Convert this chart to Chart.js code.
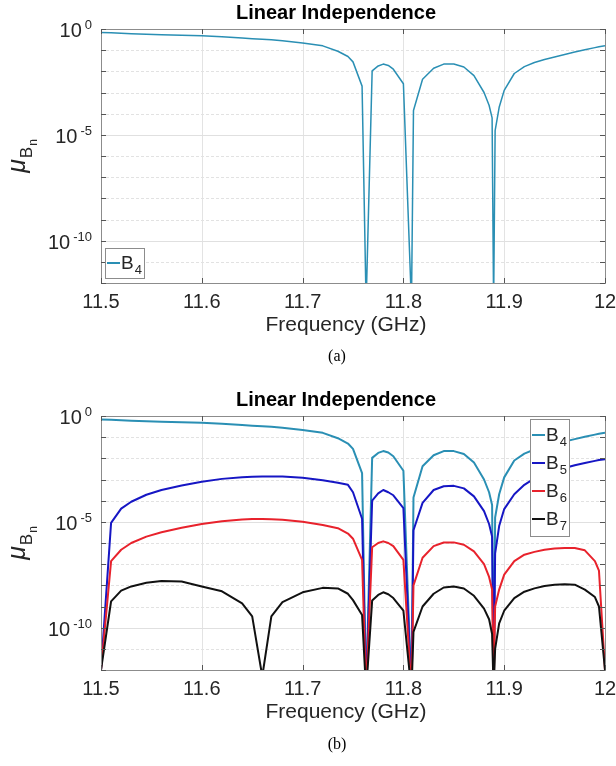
<!DOCTYPE html>
<html>
<head>
<meta charset="utf-8">
<script src="https://cdn.jsdelivr.net/npm/chart.js@4.4.1/dist/chart.umd.min.js"></script>
<style>
  body { margin: 0; background: #fff; }
  canvas { display: block; }
</style>
</head>
<body>
<canvas id="chartA" width="616" height="383"></canvas>
<canvas id="chartB" width="616" height="383"></canvas>
<script>
// frequency samples (GHz), shared by every curve
const freq = [11.50, 11.51, 11.52, 11.53, 11.545, 11.56, 11.58, 11.60, 11.62, 11.64,
  11.65, 11.66, 11.669, 11.68, 11.70, 11.72, 11.735, 11.745, 11.75, 11.759,
  11.763, 11.769, 11.775, 11.78, 11.785, 11.79, 11.80, 11.808, 11.81, 11.819,
  11.83, 11.84, 11.85, 11.86, 11.87, 11.88, 11.885, 11.888, 11.8895, 11.891,
  11.895, 11.90, 11.91, 11.92, 11.93, 11.94, 11.95, 11.96, 11.97, 11.98,
  11.99, 11.994, 12.00];

const muB4 = [6.9e-1, 6.6e-1, 6.3e-1, 6.0e-1, 5.6e-1, 5.4e-1, 5.0e-1, 4.8e-1, 4.3e-1, 3.8e-1,
  3.5e-1, 3.3e-1, 3.1e-1, 2.75e-1, 2.2e-1, 1.6e-1, 8.9e-2, 5.0e-2, 2.8e-2, 2.0e-3,
  1e-13, 1.05e-2, 1.8e-2, 2.2e-2, 1.9e-2, 1.26e-2, 2.6e-3, 1e-13, 1.4e-4, 4.2e-3,
  1.4e-2, 2.2e-2, 2.2e-2, 1.6e-2, 6.3e-3, 1.0e-3, 2.5e-4, 6.3e-5, 1e-13, 1.6e-5,
  2.0e-4, 1.26e-3, 7.9e-3, 1.66e-2, 2.6e-2, 3.6e-2, 4.8e-2, 6.3e-2, 8.1e-2, 1.05e-1,
  1.32e-1, 1.45e-1, 1.62e-1];

const muB5 = [1e-12, 8.9e-6, 4.2e-5, 8.9e-5, 1.9e-4, 3.2e-4, 5.2e-4, 7.9e-4, 1.07e-3, 1.29e-3,
  1.35e-3, 1.38e-3, 1.38e-3, 1.38e-3, 1.2e-3, 9.3e-4, 7.1e-4, 5.6e-4, 2.5e-4, 1.4e-5,
  1e-13, 1.0e-4, 2.2e-4, 3.2e-4, 2.5e-4, 1.8e-4, 4.5e-5, 1e-13, 4.0e-6, 7.9e-5,
  3.2e-4, 4.8e-4, 5.0e-4, 3.8e-4, 1.6e-4, 3.2e-5, 7.9e-6, 2.0e-6, 1e-13, 3.2e-7,
  6.3e-6, 4.0e-5, 2.0e-4, 5.6e-4, 1.12e-3, 1.78e-3, 2.6e-3, 3.5e-3, 4.7e-3, 6.0e-3,
  7.6e-3, 8.3e-3, 9.1e-3];

const muB6 = [1e-12, 1.4e-7, 4.8e-7, 1.0e-6, 2.0e-6, 3.2e-6, 5.2e-6, 7.9e-6, 1.07e-5, 1.29e-5,
  1.35e-5, 1.35e-5, 1.32e-5, 1.26e-5, 1.0e-5, 7.1e-6, 5.0e-6, 2.8e-6, 1.6e-6, 1.6e-7,
  1e-13, 6.3e-7, 1.0e-6, 1.2e-6, 1.0e-6, 7.1e-7, 1.6e-7, 1e-13, 1.0e-8, 2.0e-7,
  7.1e-7, 1.05e-6, 1.07e-6, 8.3e-7, 4.0e-7, 1.0e-7, 2.5e-8, 6.3e-9, 1e-13, 1.0e-9,
  6.3e-9, 3.2e-8, 1.4e-7, 2.8e-7, 3.8e-7, 4.8e-7, 5.5e-7, 5.8e-7, 5.8e-7, 4.5e-7,
  1.4e-7, 5.0e-8, 1e-12];

const muB7 = [1e-12, 1.74e-9, 5.6e-9, 8.9e-9, 1.32e-8, 1.62e-8, 1.51e-8, 8.9e-9, 5.2e-9, 1.4e-9,
  3.4e-10, 5e-13, 3.4e-10, 1.6e-9, 4.7e-9, 7.6e-9, 7.1e-9, 4.0e-9, 2.0e-9, 4.0e-10,
  1e-13, 1.9e-9, 3.5e-9, 4.7e-9, 3.8e-9, 2.5e-9, 6.3e-10, 1e-13, 6.3e-11, 1.0e-9,
  4.0e-9, 7.9e-9, 8.9e-9, 7.1e-9, 3.2e-9, 7.9e-10, 2.5e-10, 5.0e-11, 1e-13, 1.0e-11,
  1.6e-10, 6.3e-10, 2.5e-9, 5.0e-9, 7.2e-9, 9.3e-9, 1.07e-8, 1.12e-8, 1.07e-8, 6.3e-9,
  2.8e-9, 1.0e-9, 1e-12];

const xTicks = [11.5, 11.6, 11.7, 11.8, 11.9, 12];
const yDecades = [1e0, 1e-1, 1e-2, 1e-3, 1e-4, 1e-5, 1e-6, 1e-7, 1e-8, 1e-9, 1e-10, 1e-11, 1e-12];
const yLabelExps = ['0', '-5', '-10'];

const FONT = '"Liberation Sans", Arial, Helvetica, sans-serif';
const SERIF = '"Liberation Serif", "Times New Roman", serif';
const INK = '#262626';

const crisp = v => Math.round(v) + 0.5;

function seg(ctx, x1, y1, x2, y2) {
  ctx.beginPath();
  ctx.moveTo(x1, y1);
  ctx.lineTo(x2, y2);
  ctx.stroke();
}

// draws base text with a lowered (or raised) smaller part, returns end x
function textWithIndex(ctx, x, y, base, idx, size, idxSize, shift) {
  ctx.font = size + 'px ' + FONT;
  ctx.fillText(base, x, y);
  const w = ctx.measureText(base).width;
  ctx.font = idxSize + 'px ' + FONT;
  ctx.fillText(idx, x + w + 1, y + shift);
  return x + w + 1 + ctx.measureText(idx).width;
}

// grid, box, ticks, labels, legend and captions in MATLAB style
const figurePlugin = {
  id: 'figure',
  beforeDatasetsDraw(chart, args, o) {
    const { ctx, chartArea: a, scales: { x, y } } = chart;
    ctx.save();
    ctx.lineWidth = 1;
    ctx.strokeStyle = '#e3e3e3';
    xTicks.slice(1, -1).forEach(v => {
      const px = crisp(x.getPixelForValue(v));
      seg(ctx, px, a.top, px, a.bottom);
    });
    yDecades.forEach((v, i) => {
      const py = crisp(y.getPixelForValue(v));
      if (i % 5 === 0) {
        ctx.setLineDash([]);
        ctx.strokeStyle = '#e0e0e0';
      } else {
        ctx.setLineDash([3, 2]);
        ctx.strokeStyle = '#e2e2e2';
      }
      seg(ctx, a.left, py, a.right, py);
    });
    ctx.restore();
  },
  afterDatasetsDraw(chart, args, o) {
    const { ctx, chartArea: a, scales: { x, y } } = chart;
    ctx.save();

    // axes box with inward ticks
    ctx.lineWidth = 1;
    ctx.strokeStyle = '#8c8c8c';
    ctx.strokeRect(crisp(a.left), crisp(a.top), Math.round(a.right - a.left), Math.round(a.bottom - a.top));
    ctx.strokeStyle = '#555';
    xTicks.forEach(v => {
      const px = crisp(x.getPixelForValue(v));
      seg(ctx, px, a.bottom, px, a.bottom - 5);
      seg(ctx, px, a.top, px, a.top + 5);
    });
    yDecades.forEach(v => {
      const py = crisp(y.getPixelForValue(v));
      seg(ctx, a.left, py, a.left + 5, py);
      seg(ctx, a.right, py, a.right - 5, py);
    });

    // y tick labels 10^n
    ctx.fillStyle = INK;
    ctx.textBaseline = 'alphabetic';
    ctx.textAlign = 'left';
    yLabelExps.forEach(e => {
      const py = y.getPixelForValue(Math.pow(10, Number(e)));
      ctx.font = '13px ' + FONT;
      const supW = ctx.measureText(e).width;
      ctx.font = '20px ' + FONT;
      const baseW = ctx.measureText('10').width;
      const right = a.left - 9;
      ctx.fillText('10', right - supW - 3 - baseW, py + 8);
      ctx.font = '13px ' + FONT;
      ctx.fillText(e, right - supW, py);
    });

    // y axis label mu_{B_n}
    ctx.save();
    ctx.translate(25, (a.top + a.bottom) / 2);
    ctx.rotate(-Math.PI / 2);
    ctx.font = 'italic 25px ' + FONT;
    const muW = ctx.measureText('\u03bc').width;
    ctx.font = '17px ' + FONT;
    const bW = ctx.measureText('B').width;
    ctx.font = '12px ' + FONT;
    const nW = ctx.measureText('n').width;
    let tx = -(muW + bW + nW + 2) / 2;
    ctx.font = 'italic 25px ' + FONT;
    ctx.fillText('\u03bc', tx, 0);
    tx += muW + 1;
    ctx.font = '17px ' + FONT;
    ctx.fillText('B', tx, 7);
    tx += bW + 1;
    ctx.font = '12px ' + FONT;
    ctx.fillText('n', tx, 12);
    ctx.restore();

    // x axis title
    ctx.textAlign = 'center';
    ctx.textBaseline = 'middle';
    ctx.font = '21px ' + FONT;
    ctx.fillText('Frequency (GHz)', 346, o.xTitleY);

    // title
    ctx.fillStyle = '#000';
    ctx.font = 'bold 20px ' + FONT;
    ctx.fillText('Linear Independence', 336, o.titleY);

    // panel caption
    ctx.font = '16px ' + SERIF;
    ctx.fillText(o.caption, 337, o.captionY);

    // legend
    const L = o.legend;
    ctx.fillStyle = '#fff';
    ctx.fillRect(L.left, L.top, L.w, L.h);
    ctx.strokeStyle = '#8c8c8c';
    ctx.strokeRect(L.left + 0.5, L.top + 0.5, L.w, L.h);
    ctx.textAlign = 'left';
    ctx.textBaseline = 'alphabetic';
    chart.data.datasets.forEach((ds, i) => {
      const ly = L.top + L.first + i * L.step;
      ctx.strokeStyle = ds.borderColor;
      ctx.lineWidth = 2;
      seg(ctx, L.left + 2, ly, L.left + 15, ly);
      ctx.fillStyle = INK;
      textWithIndex(ctx, L.left + 16, ly + 6, ds.label.charAt(0), ds.label.slice(1), 19, 13, 5);
    });
    ctx.restore();
  }
};

function series(values) {
  return freq.map((f, i) => ({ x: f, y: values[i] }));
}

function makeChart(id, datasets, decor) {
  const H = 383;
  return new Chart(document.getElementById(id), {
    type: 'line',
    data: { datasets },
    options: {
      responsive: false,
      animation: false,
      devicePixelRatio: 1,
      layout: { padding: { top: decor.plotTop, right: 11, left: 0, bottom: 0 } },
      elements: {
        point: { radius: 0 },
        line: { tension: 0, borderJoinStyle: 'round' }
      },
      plugins: {
        legend: { display: false },
        tooltip: { enabled: false },
        figure: decor
      },
      scales: {
        x: {
          type: 'linear',
          min: 11.5,
          max: 12,
          grid: { display: false, drawTicks: false },
          border: { display: false },
          afterBuildTicks: s => { s.ticks = xTicks.map(v => ({ value: v })); },
          afterFit: s => {
            s.height = H - decor.plotBottom;
            s.paddingLeft = 0;
            s.paddingRight = 0;
          },
          ticks: {
            font: { family: FONT, size: 20 },
            color: INK,
            padding: 7,
            maxRotation: 0,
            autoSkip: false,
            callback: v => String(v)
          }
        },
        y: {
          type: 'logarithmic',
          min: 1e-12,
          max: 1,
          grid: { display: false, drawTicks: false },
          border: { display: false },
          ticks: { display: false },
          afterFit: s => { s.width = 101; }
        }
      }
    },
    plugins: [figurePlugin]
  });
}

makeChart('chartA', [
  { label: 'B4', data: series(muB4), borderColor: '#2a8fb4', borderWidth: 1.5 }
], {
  plotTop: 29, plotBottom: 283, titleY: 13, xTitleY: 325, captionY: 357, caption: '(a)',
  legend: { left: 105, top: 248, w: 39, h: 30, first: 15, step: 28 }
});

makeChart('chartB', [
  { label: 'B4', data: series(muB4), borderColor: '#2a8fb4', borderWidth: 2, order: 3 },
  { label: 'B5', data: series(muB5), borderColor: '#1616c4', borderWidth: 2, order: 2 },
  { label: 'B6', data: series(muB6), borderColor: '#e8222c', borderWidth: 2, order: 1 },
  { label: 'B7', data: series(muB7), borderColor: '#111111', borderWidth: 2, order: 0 }
], {
  plotTop: 33, plotBottom: 287, titleY: 17, xTitleY: 329, captionY: 362, caption: '(b)',
  legend: { left: 530, top: 36, w: 39, h: 117, first: 16, step: 28 }
});
</script>
</body>
</html>
